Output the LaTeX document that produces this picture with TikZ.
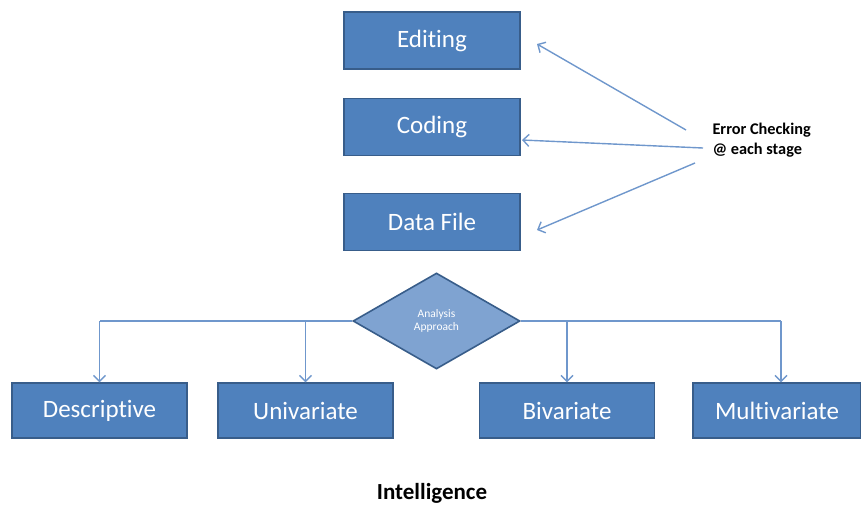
\documentclass[tikz,border=0pt]{standalone}
\usepackage{fontspec}
\setmainfont[Ligatures=NoCommon]{Carlito}
\usetikzlibrary{shapes.geometric,arrows.meta}
\definecolor{boxfill}{HTML}{4F81BD}
\definecolor{boxline}{HTML}{385D8A}
\definecolor{dfill}{HTML}{7FA3D1}
\definecolor{lnc}{HTML}{6F97CC}
\begin{document}
\begin{tikzpicture}[x=1pt,y=-1pt,
  bx/.style={draw=boxline,line width=1.4pt,fill=boxfill,text=white,minimum width=176pt,minimum height=57pt,inner sep=0pt,font=\fontsize{25}{28}\selectfont},
  conn/.style={draw=lnc,line width=1.4pt,-{Straight Barb[length=6pt,width=12pt]}},
  hl/.style={draw=lnc,line width=1.4pt}]
\useasboundingbox (0,0) rectangle (861,507);
\node[bx] (edit) at (432,40.5) {Edit\kern0pt ing};
\node[bx] (cod) at (432,127) {Coding};
\node[bx] (data) at (432,222) {Data File};
\node[diamond,draw=boxline,line width=1.6pt,fill=dfill,text=white,minimum width=167pt,minimum height=96pt,aspect=1.74,inner sep=0pt,font=\fontsize{11.5}{13}\selectfont,align=center] (diam) at (436.5,321) {Analysis\\Approach};
\node[bx,minimum width=175pt,minimum height=55pt] (desc) at (99.5,410.5) {Descript\kern0pt ive};
\node[bx,minimum width=175pt,minimum height=55pt] (uni) at (305.5,410.5) {Univariate};
\node[bx,minimum width=175pt,minimum height=55pt] (biv) at (567,410.5) {Bivariate};
\node[bx,minimum width=168pt,minimum height=55pt] (mult) at (777,410.5) {Mult\kern0pt ivariate};
\node[font=\bfseries\fontsize{16.3}{20}\selectfont,align=left,anchor=west] (err) at (709,140) {Error Checking\\@ each stage};
\node[font=\bfseries\fontsize{23}{26}\selectfont] (intel) at (432,493) {Intelligence};
\coordinate (e1) at (686,130);
\coordinate (e2) at (703,148);
\coordinate (e3) at (695,163);
\coordinate (t1) at (537,44);
\coordinate (t2) at (522,140);
\coordinate (t3) at (537,230);
\draw[conn] (e1) -- (t1);
\draw[conn] (e2) -- (t2);
\draw[conn] (e3) -- (t3);
\coordinate (jl) at (99.5,321);
\coordinate (ju) at (305.5,321);
\coordinate (jb) at (567,321);
\coordinate (jm) at (781,321);
\draw[hl] (diam.west) -- (jl);
\draw[hl] (diam.east) -- (jm);
\draw[conn] (jl) -- (desc.north);
\draw[conn] (ju) -- (uni.north);
\draw[conn] (jb) -- (biv.north);
\draw[conn] (jm) -- (jm |- mult.north);
\end{tikzpicture}
\end{document}
